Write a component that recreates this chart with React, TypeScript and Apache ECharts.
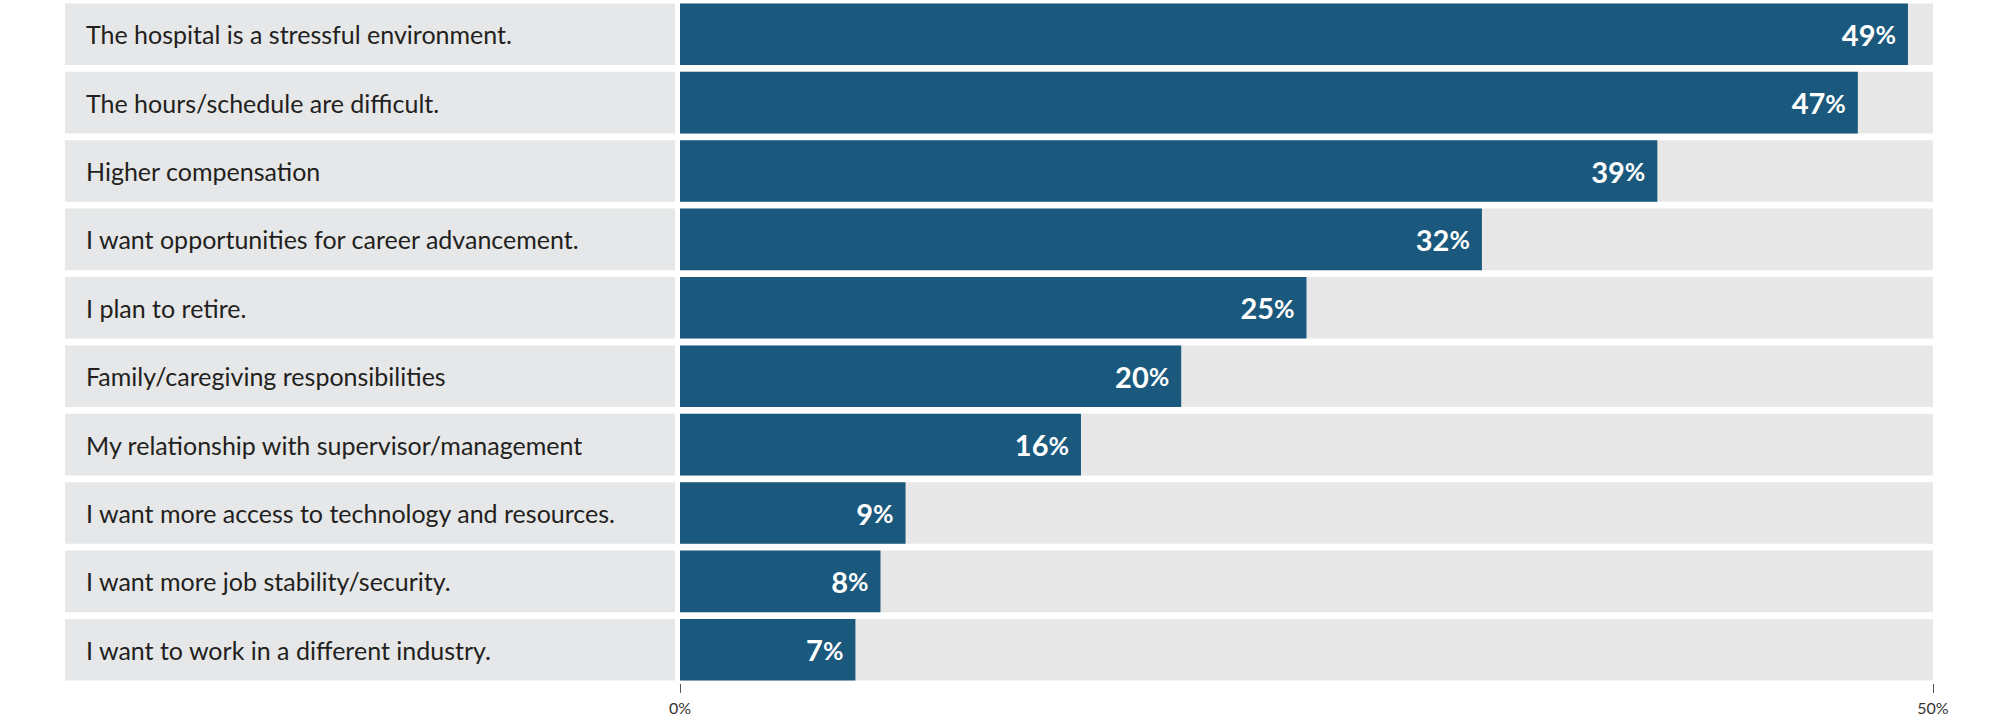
import { useEffect, useRef } from 'react';
import * as echarts from 'echarts';

const categories = [
  'The hospital is a stressful environment.',
  'The hours/schedule are difficult.',
  'Higher compensation',
  'I want opportunities for career advancement.',
  'I plan to retire.',
  'Family/caregiving responsibilities',
  'My relationship with supervisor/management',
  'I want more access to technology and resources.',
  'I want more job stability/security.',
  'I want to work in a different industry.',
];

const values = [49, 47, 39, 32, 25, 20, 16, 9, 8, 7];

const axisMax = 50;

const BAR_COLOR = '#1a597d';
const TRACK_COLOR = '#e8e8e8';
const LABEL_BOX = '#e6e7e8';
const FONT = 'Lato, "Open Sans", sans-serif';

export default function App() {
  const chartRef = useRef<HTMLDivElement>(null);

  useEffect(() => {
    if (!chartRef.current) return;
    const chart = echarts.init(chartRef.current, null, { renderer: 'svg' });

    const option: echarts.EChartsOption = {
      animation: false,
      backgroundColor: '#ffffff',
      grid: [
        { left: 65, width: 610, top: 0, height: 684 },
        { left: 680, width: 1253, top: 0, height: 684 },
      ],
      xAxis: [
        { gridIndex: 0, type: 'value', min: 0, max: 1, show: false },
        {
          gridIndex: 1,
          type: 'value',
          min: 0,
          max: axisMax,
          interval: axisMax,
          axisLine: { show: false },
          axisTick: { show: true, length: 9, lineStyle: { color: '#555', width: 1 } },
          splitLine: { show: false },
          axisLabel: {
            formatter: '{value}%',
            fontSize: 16,
            color: '#333',
            fontFamily: FONT,
            margin: 15,
          },
        },
      ],
      yAxis: [
        { gridIndex: 0, type: 'category', inverse: true, data: categories, show: false },
        { gridIndex: 1, type: 'category', inverse: true, data: categories, show: false },
      ],
      series: [
        {
          type: 'bar',
          xAxisIndex: 0,
          yAxisIndex: 0,
          data: categories.map(() => 1),
          barWidth: '90%',
          itemStyle: { color: LABEL_BOX },
          silent: true,
          label: {
            show: true,
            position: 'insideLeft',
            distance: 21,
            formatter: (p: any) => p.name,
            fontSize: 25,
            color: '#231f20',
            fontFamily: FONT,
          },
        },
        {
          type: 'bar',
          xAxisIndex: 1,
          yAxisIndex: 1,
          data: values,
          barWidth: '90%',
          itemStyle: { color: BAR_COLOR },
          showBackground: true,
          backgroundStyle: { color: TRACK_COLOR },
          label: {
            show: true,
            position: 'insideRight',
            distance: 12,
            formatter: (p: any) => `{n|${p.value}}{p|%}`,
            rich: {
              n: { fontSize: 29, fontWeight: 'bold', color: '#fff', fontFamily: FONT },
              p: { fontSize: 25, fontWeight: 'bold', color: '#fff', fontFamily: FONT },
            },
          },
        },
      ],
    };

    chart.setOption(option);
    return () => chart.dispose();
  }, []);

  return (
    <div
      ref={chartRef}
      style={{ position: 'absolute', left: 0, top: 0, width: 2000, height: 715 }}
    />
  );
}
